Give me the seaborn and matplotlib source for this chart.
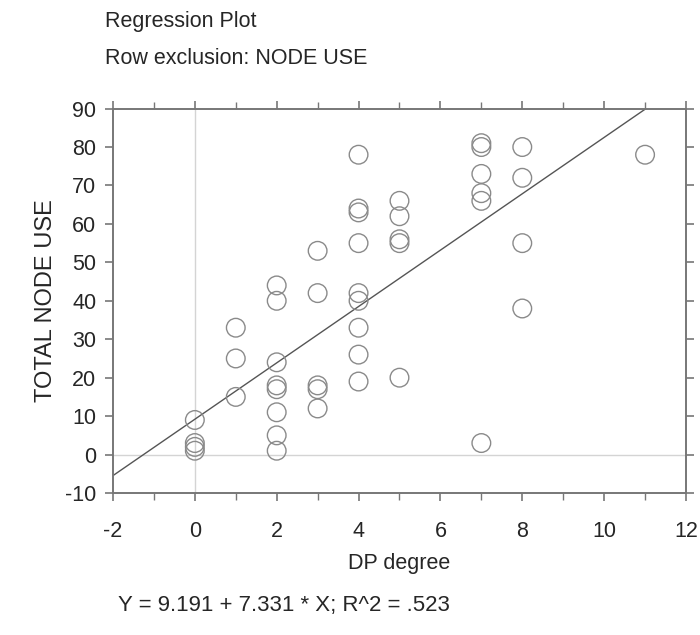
import matplotlib
matplotlib.use("Agg")
import matplotlib.pyplot as plt
import pandas as pd
import seaborn as sns
from matplotlib.ticker import MultipleLocator

# --- Daten ---
dp_degree = [0, 0, 0, 0,
             1, 1, 1,
             2, 2, 2, 2, 2, 2, 2, 2,
             3, 3, 3, 3, 3,
             4, 4, 4, 4, 4, 4, 4, 4, 4,
             5, 5, 5, 5, 5,
             7, 7, 7, 7, 7, 7,
             8, 8, 8, 8,
             11]
total_node_use = [9, 3, 2, 1,
                  33, 25, 15,
                  44, 40, 24, 18, 17, 11, 5, 1,
                  53, 42, 18, 17, 12,
                  78, 64, 63, 55, 42, 40, 33, 26, 19,
                  66, 62, 56, 55, 20,
                  81, 80, 73, 68, 66, 3,
                  80, 72, 55, 38,
                  78]
INTERCEPT = 9.191
SLOPE = 7.331
R2 = ".523"
x_ticks = [-2, 0, 2, 4, 6, 8, 10, 12]
y_ticks = [-10, 0, 10, 20, 30, 40, 50, 60, 70, 80, 90]

df = pd.DataFrame({"DP degree": dp_degree, "TOTAL NODE USE": total_node_use})

sns.set_style("white")
plt.rcParams["font.family"] = ["Liberation Sans", "DejaVu Sans"]
plt.rcParams["axes.unicode_minus"] = False

fig = plt.figure(figsize=(7, 6.35), dpi=100)
ax = fig.add_axes([0.1614, 0.2236, 0.8186, 0.6054])

# Referenzlinien bei 0
ax.axvline(0, color="#d4d4d4", lw=1, zorder=0)
ax.axhline(0, color="#d4d4d4", lw=1, zorder=0)

sns.scatterplot(data=df, x="DP degree", y="TOTAL NODE USE", ax=ax,
                marker="o", s=180, facecolor="none", edgecolor="#8a8a8a",
                linewidth=1.0, zorder=3)

ax.axline((0, INTERCEPT), slope=SLOPE, color="#555555", lw=1.0, zorder=2)

ax.set_xlim(-2, 12)
ax.set_ylim(-10, 90)
ax.set_xticks(x_ticks)
ax.set_yticks(y_ticks)
ax.xaxis.set_minor_locator(MultipleLocator(1))
ax.tick_params(axis="both", which="both", direction="out", color="#777777",
               labelsize=15.5, top=True, right=True, bottom=True, left=True,
               labeltop=False, labelright=False)
ax.tick_params(axis="x", pad=14)
ax.tick_params(axis="y", pad=6)
ax.tick_params(which="major", length=6, width=1.2)
ax.tick_params(which="minor", length=5, width=1.0)
for sp in ax.spines.values():
    sp.set_visible(True)
    sp.set_color("#777777")
    sp.set_linewidth(1.4)

ax.set_xlabel("DP degree", fontsize=15.5, labelpad=8)
ax.set_ylabel("TOTAL NODE USE", fontsize=17, labelpad=6)

fig.text(0.150, 0.966, "Regression Plot", fontsize=15.5, va="center", ha="left")
fig.text(0.150, 0.908, "Row exclusion: NODE USE", fontsize=15.5, va="center", ha="left")
fig.text(0.169, 0.047, f"Y = {INTERCEPT} + {SLOPE} * X; R^2 = {R2}",
         fontsize=16, va="center", ha="left")

fig.savefig("out.png", dpi=100)
plt.close(fig)
